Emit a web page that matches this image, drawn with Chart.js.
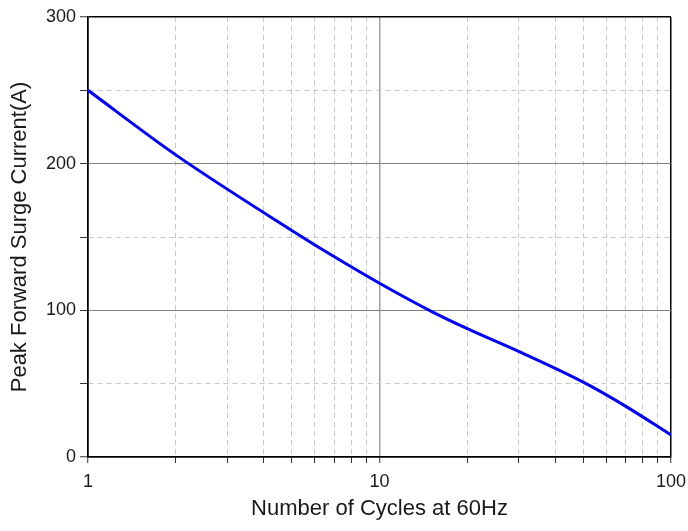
<!DOCTYPE html>
<html>
<head>
<meta charset="utf-8">
<script src="https://cdn.jsdelivr.net/npm/chart.js@4.4.1/dist/chart.umd.min.js"></script>
<style>
  body { margin: 0; background: #fff; }
  #wrap { width: 688px; height: 531px; }
</style>
</head>
<body>
<div id="wrap"><canvas id="surge-chart"></canvas></div>
<script>
// values
const cycles = [1, 2, 5, 7, 10, 15, 20, 30, 50, 70, 100];
const surgeCurrent = [250, 206, 154.5, 136.5, 118.5, 99.5, 87.5, 72, 51, 34.5, 15];

// gridlines on the log axis, labels only on decades
const xGridValues = [1, 2, 3, 4, 5, 6, 7, 8, 9, 10, 20, 30, 40, 50, 60, 70, 80, 90, 100];
const xLabelValues = [1, 10, 100];
const yLabelValues = [0, 100, 200, 300];

const ctx = document.getElementById('surge-chart').getContext('2d');

const points = cycles.map((c, i) => ({ x: c, y: surgeCurrent[i] }));

new Chart(ctx, {
    type: 'line',
    data: {
        datasets: [{
            data: points,
            borderColor: '#0000ff',
            borderWidth: 3,
            pointRadius: 0,
            cubicInterpolationMode: 'monotone',
            fill: false
        }]
    },
    options: {
        responsive: true,
        maintainAspectRatio: false,
        animation: false,
        layout: { padding: { top: 17, right: 17, left: 0, bottom: 0 } },
        plugins: {
            legend: { display: false },
            tooltip: { enabled: false }
        },
        scales: {
            x: {
                type: 'logarithmic',
                min: 1,
                max: 100,
                afterBuildTicks: function (scale) {
                    scale.ticks = xGridValues.map(v => ({ value: v }));
                },
                afterFit: function (scale) {
                    scale.height = 74;
                    // keep the "100" label from pushing the plot inwards
                    scale.paddingLeft = 0;
                    scale.paddingRight = 0;
                },
                ticks: {
                    autoSkip: false,
                    maxRotation: 0,
                    padding: 8,
                    color: '#1a1a1a',
                    font: { family: 'Liberation Sans, Arial', size: 18 },
                    callback: function (value) {
                        return xLabelValues.includes(value) ? String(value) : '';
                    }
                },
                grid: {
                    color: function (c) {
                        if (!c.tick) return '#000';
                        const v = c.tick.value;
                        if (v === 1 || v === 100) return '#000';
                        if (v === 10) return '#a0a0a0';
                        return '#c8c8c8';
                    },
                    lineWidth: function (c) {
                        if (!c.tick) return 1.5;
                        const v = c.tick.value;
                        if (v === 1 || v === 100 || v === 10) return 1.5;
                        return 1;
                    },
                    tickLength: 6,
                    tickColor: '#333',
                    tickWidth: 1,
                    tickBorderDash: []
                },
                border: {
                    color: '#000',
                    width: 1.5,
                    dash: function (c) {
                        if (!c.tick) return [];
                        return xLabelValues.includes(c.tick.value) ? [] : [5, 4];
                    }
                },
                title: {
                    display: true,
                    text: 'Number of Cycles at 60Hz',
                    color: '#1a1a1a',
                    font: { family: 'Liberation Sans, Arial', size: 22 },
                    padding: { top: 0, bottom: 9 }
                }
            },
            y: {
                min: 0,
                max: 300,
                afterFit: function (scale) {
                    scale.width = 88;
                },
                ticks: {
                    stepSize: 50,
                    padding: 4,
                    color: '#1a1a1a',
                    font: { family: 'Liberation Sans, Arial', size: 18 },
                    callback: function (value) {
                        return yLabelValues.includes(value) ? String(value) : '';
                    }
                },
                grid: {
                    color: function (c) {
                        if (!c.tick) return '#000';
                        const v = c.tick.value;
                        if (v === 0 || v === 300) return '#000';
                        if (v % 100 === 0) return '#808080';
                        return '#c8c8c8';
                    },
                    lineWidth: function (c) {
                        if (!c.tick) return 1.5;
                        const v = c.tick.value;
                        return (v === 0 || v === 300) ? 1.5 : 1;
                    },
                    tickLength: 8,
                    tickColor: '#333',
                    tickWidth: 1,
                    tickBorderDash: []
                },
                border: {
                    color: '#000',
                    width: 1.5,
                    dash: function (c) {
                        if (!c.tick) return [];
                        return c.tick.value % 100 === 0 ? [] : [5, 4];
                    }
                },
                title: {
                    display: true,
                    text: 'Peak Forward Surge Current(A)',
                    color: '#1a1a1a',
                    font: { family: 'Liberation Sans, Arial', size: 22 },
                    padding: { top: 7, bottom: 0 }
                }
            }
        }
    }
});
</script>
</body>
</html>
